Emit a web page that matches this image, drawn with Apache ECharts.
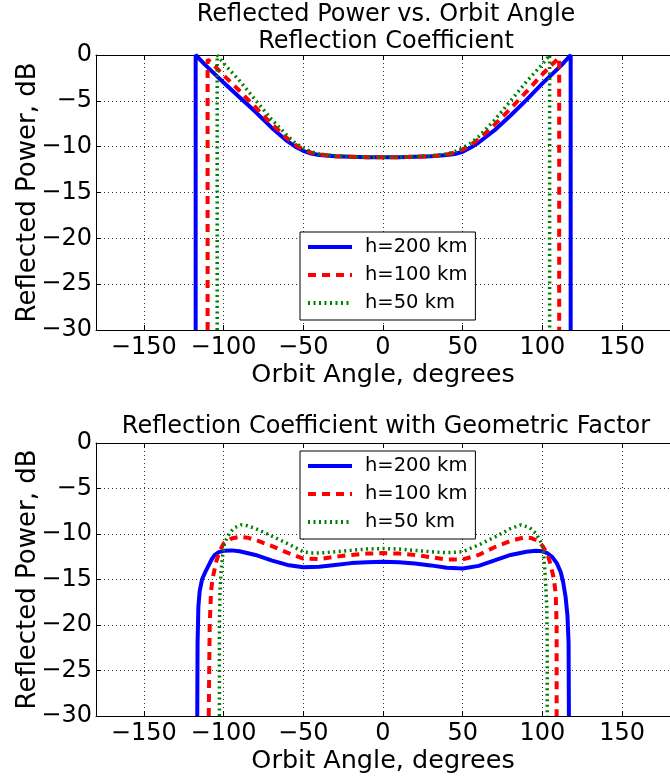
<!DOCTYPE html>
<html>
<head>
<meta charset="utf-8">
<script src="https://cdn.jsdelivr.net/npm/echarts@6/dist/echarts.min.js"></script>
<style>
html, body { margin: 0; padding: 0; background: #fff; }
#chart { width: 670px; height: 780px; }
</style>
</head>
<body>
<div id="chart"></div>
<script>
// series names
var names = ['h=200 km', 'h=100 km', 'h=50 km'];
var tickValues = [-150, -100, -50, 0, 50, 100, 150];

// top panel: reflection coefficient
var topAngle200 = [-117.5, -117.5, -112, -106, -100, -90, -80, -70, -60, -55, -50, -45, -40, -30, -20, -10, 0, 10, 20, 30, 40, 45, 50, 55, 60, 70, 80, 90, 100, 106, 112, 117.7, 117.7];
var topPower200 = [-30, 0, -1.0, -2.0, -3.0, -4.6, -6.2, -7.9, -9.4, -10.0, -10.45, -10.75, -10.9, -11.05, -11.1, -11.15, -11.15, -11.15, -11.1, -11.05, -10.9, -10.8, -10.55, -10.1, -9.55, -8.2, -6.6, -4.9, -3.1, -2.1, -1.1, 0, -30];
var topAngle100 = [-110, -110, -105, -100, -90, -80, -70, -60, -55, -50, -45, -40, -30, -20, -10, 0, 10, 20, 30, 40, 45, 50, 55, 60, 70, 80, 90, 100, 105, 110.5, 110.5];
var topPower100 = [-30, -0.5, -1.3, -2.2, -3.9, -5.7, -7.5, -9.1, -9.8, -10.3, -10.65, -10.85, -11.05, -11.1, -11.15, -11.15, -11.15, -11.1, -11.05, -10.85, -10.65, -10.3, -9.8, -9.2, -7.6, -5.85, -4.0, -2.1, -1.2, -0.3, -30];
var topAngle50 = [-104, -104, -100, -90, -80, -70, -60, -55, -50, -45, -40, -30, -20, -10, 0, 10, 20, 30, 40, 45, 50, 55, 60, 70, 80, 90, 100, 104.5, 104.5];
var topPower50 = [-30, 0, -0.9, -2.8, -4.9, -7.0, -8.8, -9.6, -10.15, -10.55, -10.8, -11.0, -11.1, -11.15, -11.15, -11.15, -11.1, -11.0, -10.8, -10.55, -10.15, -9.6, -8.9, -7.1, -5.0, -2.9, -1.0, 0, -30];

// bottom panel: with geometric factor
var botAngle200 = [-116.5, -116.3, -115.8, -115, -113.5, -111.5, -109.5, -107.5, -105.5, -103, -100, -95, -90, -80, -70, -60, -50, -40, -30, -20, -10, 0, 10, 20, 30, 40, 50, 60, 70, 80, 90, 96, 100, 103, 106, 109, 111.5, 113, 114.5, 115.7, 116.4, 116.6];
var botPower200 = [-30, -22, -18, -16.3, -15, -14.2, -13.5, -12.8, -12.3, -12.0, -11.85, -11.8, -11.9, -12.3, -12.9, -13.4, -13.65, -13.6, -13.4, -13.2, -13.1, -13.05, -13.1, -13.25, -13.45, -13.7, -13.8, -13.5, -12.9, -12.3, -11.95, -11.85, -11.9, -12.1, -12.5, -13.2, -14.2, -15.3, -16.9, -19, -22, -30];
var botAngle100 = [-109.3, -108.7, -107.8, -106.9, -105.8, -104.6, -102.5, -100, -95, -90, -85, -80, -70, -60, -50, -40, -30, -20, -10, 0, 10, 20, 30, 40, 50, 60, 70, 80, 88, 93, 97, 100, 103, 105, 107, 108.3, 108.9, 108.9];
var botPower100 = [-30, -20, -16.2, -15, -14, -13.05, -11.9, -11.05, -10.5, -10.3, -10.4, -10.65, -11.3, -12.05, -12.7, -12.75, -12.5, -12.3, -12.15, -12.1, -12.15, -12.3, -12.55, -12.8, -12.8, -12.3, -11.45, -10.75, -10.4, -10.45, -10.75, -11.3, -12.15, -13.3, -14.8, -16.5, -20, -30];
var botAngle50 = [-102.6, -102.6, -102.3, -101.5, -100.5, -99.4, -96.3, -93, -89, -85, -80, -70, -60, -50, -45, -40, -30, -20, -10, 0, 10, 20, 30, 40, 50, 60, 70, 80, 86.5, 92, 96, 100, 101, 102, 102.7, 103, 103];
var botPower50 = [-30, -20, -16.5, -14, -12.3, -11.0, -9.9, -9.3, -9.0, -9.1, -9.4, -10.2, -11.05, -11.95, -12.1, -12.1, -11.95, -11.8, -11.65, -11.6, -11.65, -11.8, -11.95, -12.05, -11.95, -11.2, -10.35, -9.4, -9.0, -9.3, -9.95, -11.2, -12.7, -15.4, -18, -22, -30];

var FONT = 'DejaVu Sans';
var styles = [
    { color: '#0000ff', width: 4, type: 'solid' },
    { color: '#ff0000', width: 4, type: [8, 6] },
    { color: '#008000', width: 3.5, type: [2, 3.5] }
];

function zip(xs, ys) {
    var out = [];
    for (var i = 0; i < xs.length; i++) out.push([xs[i], ys[i]]);
    return out;
}
function minus(v) { return String(v).replace('-', '\u2212'); }

function bottomX(grid) {
    return {
        type: 'value', gridIndex: grid, min: -180, max: 180,
        name: 'Orbit Angle, degrees', nameLocation: 'middle', nameGap: 32, nameMoveOverlap: false,
        nameTextStyle: { fontFamily: FONT, fontSize: 25.5, color: '#000' },
        axisLine: { show: true, onZero: false, lineStyle: { color: '#000', width: 1 } },
        axisTick: { show: true, inside: true, length: 5, customValues: tickValues, lineStyle: { color: '#000' } },
        axisLabel: { customValues: tickValues, margin: 6, fontFamily: FONT, fontSize: 24, color: '#000', formatter: minus },
        splitLine: { show: true, lineStyle: { color: '#333', width: 1, type: [1, 3] } }
    };
}
function topX(grid) {
    return {
        type: 'value', gridIndex: grid, min: -180, max: 180, position: 'top',
        axisLine: { show: true, onZero: false, lineStyle: { color: '#000', width: 1 } },
        axisTick: { show: true, inside: true, length: 5, customValues: tickValues, lineStyle: { color: '#000' } },
        axisLabel: { show: false },
        splitLine: { show: false }
    };
}
function leftY(grid) {
    return {
        type: 'value', gridIndex: grid, min: -30, max: 0, interval: 5,
        name: 'Reflected Power, dB', nameLocation: 'middle', nameGap: 55, nameMoveOverlap: false,
        nameTextStyle: { fontFamily: FONT, fontSize: 26, color: '#000' },
        axisLine: { show: true, onZero: false, lineStyle: { color: '#000', width: 1 } },
        axisTick: { show: true, inside: true, length: 5, lineStyle: { color: '#000' } },
        axisLabel: { margin: 4, fontFamily: FONT, fontSize: 24, color: '#000', formatter: minus },
        splitLine: { show: true, lineStyle: { color: '#333', width: 1, type: [1, 3] } }
    };
}
function legendAt(top) {
    return {
        left: 300, top: top, orient: 'vertical', data: names,
        itemWidth: 44, itemHeight: 20, itemGap: 6,
        padding: [4, 8, 6, 6],
        borderColor: '#000', borderWidth: 1, borderRadius: 0,
        backgroundColor: '#fff', selectedMode: false,
        itemStyle: { opacity: 0 },
        lineStyle: { width: 4 },
        textStyle: { fontFamily: FONT, fontSize: 19.5, lineHeight: 22, color: '#000', padding: [0, 0, 0, 8] }
    };
}
function line(name, data, k, xi, yi) {
    return {
        name: name, type: 'line', data: data, xAxisIndex: xi, yAxisIndex: yi,
        symbol: 'none', showSymbol: false, smooth: false, clip: true, animation: false,
        lineStyle: { color: styles[k].color, width: styles[k].width, type: styles[k].type },
        itemStyle: { color: styles[k].color }
    };
}

var myChart = echarts.init(document.getElementById('chart'), null, { renderer: 'canvas' });
myChart.setOption({
    backgroundColor: '#fff',
    animation: false,
    title: [
        { text: 'Reflected Power vs. Orbit Angle\nReflection Coefficient', left: 386, top: 1, padding: 0, textAlign: 'center',
          textStyle: { fontFamily: FONT, fontSize: 24, fontWeight: 'normal', color: '#000', lineHeight: 27 } },
        { text: 'Reflection Coefficient with Geometric Factor', left: 386, top: 413, padding: 0, textAlign: 'center',
          textStyle: { fontFamily: FONT, fontSize: 24, fontWeight: 'normal', color: '#000', lineHeight: 27 } }
    ],
    grid: [
        { left: 96, top: 55, width: 580, height: 275 },
        { left: 96, top: 443, width: 580, height: 273 }
    ],
    legend: [legendAt(232), legendAt(451)],
    xAxis: [bottomX(0), topX(0), bottomX(1), topX(1)],
    yAxis: [leftY(0), leftY(1)],
    series: [
        line(names[0], zip(topAngle200, topPower200), 0, 0, 0),
        line(names[1], zip(topAngle100, topPower100), 1, 0, 0),
        line(names[2], zip(topAngle50, topPower50), 2, 0, 0),
        line(names[0], zip(botAngle200, botPower200), 0, 2, 1),
        line(names[1], zip(botAngle100, botPower100), 1, 2, 1),
        line(names[2], zip(botAngle50, botPower50), 2, 2, 1)
    ]
});
</script>
</body>
</html>
